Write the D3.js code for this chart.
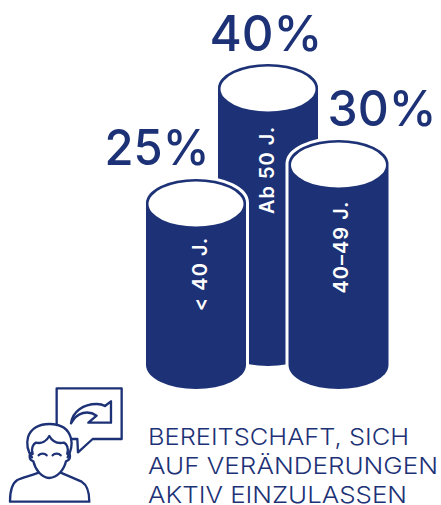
<!DOCTYPE html>
<html>
<head>
<meta charset="utf-8">
<script src="https://cdn.jsdelivr.net/npm/d3@7"></script>
<style>
html, body { margin: 0; padding: 0; background: #fff; }
svg { display: block; }
text { font-family: Inter, "Open Sans", sans-serif; }
</style>
</head>
<body>
<svg></svg>
<script>
const SVG_WIDTH = 441;
const SVG_HEIGHT = 505;
const BLUE = "#1d3276";

// drawn back to front
const categories = ["Ab 50 J.", "< 40 J.", "40–49 J."];
const values = [40, 25, 30];
const captionLines = ["BEREITSCHAFT, SICH", "AUF VERÄNDERUNGEN", "AKTIV EINZULASSEN"];

const RX = 50;
const RY = 24;
const BASE_Y = 365;
const BACK_RAISE = 23;

const xScale = d3.scaleOrdinal().domain(["< 40 J.", "Ab 50 J.", "40–49 J."]).range([196, 268, 338.5]);
// the cylinders are not drawn strictly in proportion in the original
const heightScale = d3.scaleLinear().domain([25, 30, 40]).range([162, 201, 254]);

const labelPos = { "Ab 50 J.": [274, 170], "< 40 J.": [207, 274], "40–49 J.": [348, 247] };
const percentPos = { "Ab 50 J.": [266, 51], "< 40 J.": [157, 164.5], "40–49 J.": [382, 126] };
const percentWidths = { "Ab 50 J.": 113, "< 40 J.": 105, "40–49 J.": 109 };
const captionWidths = [261, 290, 259];

const svg = d3.select("svg").attr("width", SVG_WIDTH).attr("height", SVG_HEIGHT);

function cylinderPath(cx, topY, bottomY) {
	return "M" + (cx - RX) + "," + topY +
		"L" + (cx - RX) + "," + bottomY +
		"A" + RX + "," + RY + " 0 0 0 " + (cx + RX) + "," + bottomY +
		"L" + (cx + RX) + "," + topY +
		"A" + RX + "," + RY + " 0 0 0 " + (cx - RX) + "," + topY + "Z";
}

categories.forEach(function(name, i) {
	const back = name === "Ab 50 J.";
	const cx = xScale(name);
	const bottomY = back ? BASE_Y - BACK_RAISE : BASE_Y;
	const topY = bottomY - heightScale(values[i]);
	const g = svg.append("g");

	// white halo separating the front cylinders from the back one
	if (!back) {
		g.append("path")
			.attr("d", cylinderPath(cx, topY, bottomY))
			.attr("fill", "#fff")
			.attr("stroke", "#fff")
			.attr("stroke-width", 6);
	}
	g.append("path")
		.attr("d", cylinderPath(cx, topY, bottomY))
		.attr("fill", BLUE);
	g.append("ellipse")
		.attr("cx", cx)
		.attr("cy", topY + 1)
		.attr("rx", RX - 2.5)
		.attr("ry", RY - 1.5)
		.attr("fill", "#fff");

	g.append("text")
		.attr("transform", "translate(" + labelPos[name][0] + "," + labelPos[name][1] + ") rotate(-90)")
		.attr("text-anchor", "middle")
		.attr("fill", "#fff")
		.attr("font-size", 20)
		.attr("font-weight", 600)
		.attr("letter-spacing", 1)
		.text(name);

	svg.append("text")
		.attr("x", percentPos[name][0])
		.attr("y", percentPos[name][1])
		.attr("text-anchor", "middle")
		.attr("fill", BLUE)
		.attr("font-size", 49.5)
		.attr("font-weight", 500)
		.attr("textLength", percentWidths[name])
		.attr("lengthAdjust", "spacingAndGlyphs")
		.text(values[i] + "%");
});

// caption
svg.selectAll("text.caption")
	.data(captionLines)
	.enter()
	.append("text")
	.attr("class", "caption")
	.attr("x", 148)
	.attr("y", function(d, i) { return 445 + i * 28.8; })
	.attr("fill", BLUE)
	.attr("font-size", 23)
	.attr("font-weight", 300)
	.attr("textLength", function(d, i) { return captionWidths[i]; })
	.attr("lengthAdjust", "spacingAndGlyphs")
	.text(function(d) { return d; });

// icon, traced in 3x coordinates
const icon = svg.append("g")
	.attr("transform", "translate(0,380) scale(0.3333)")
	.attr("fill", "none")
	.attr("stroke", BLUE)
	.attr("stroke-width", 7)
	.attr("stroke-linejoin", "round")
	.attr("stroke-linecap", "round");

icon.append("path").attr("d", "M170,135 L170,25 L365,25 L365,177 L278,177 L234,217 L232,177 L216,177");
icon.append("path").attr("d", "M213,130 C218,95 250,72 290,72 C300,72 308,74 315,78 L333,64 L333,128 L265,128 L290,107 C265,90 232,95 213,130 Z");
icon.append("path").attr("d", "M96,232 C84,215 78,195 84,172 C92,145 118,132 148,132 C180,132 205,145 213,175 C218,195 212,215 203,232");
icon.append("path").attr("d", "M98,222 C92,205 100,192 108,188 C125,192 140,183 148,168 C156,183 172,192 192,188 C200,192 207,205 202,222");
icon.append("path").attr("d", "M96,218 C86,222 86,240 100,244 C106,270 125,293 148,294 C172,293 192,270 198,244 C213,240 213,222 203,218");
icon.append("path").attr("d", "M116,226 C122,219 134,219 140,226");
icon.append("path").attr("d", "M158,226 C164,219 176,219 182,226");
icon.append("path").attr("d", "M116,278 C90,288 70,292 52,300 C36,310 30,328 30,365 L268,365 C268,335 262,315 245,305 C225,295 205,288 182,278");
</script>
</body>
</html>
